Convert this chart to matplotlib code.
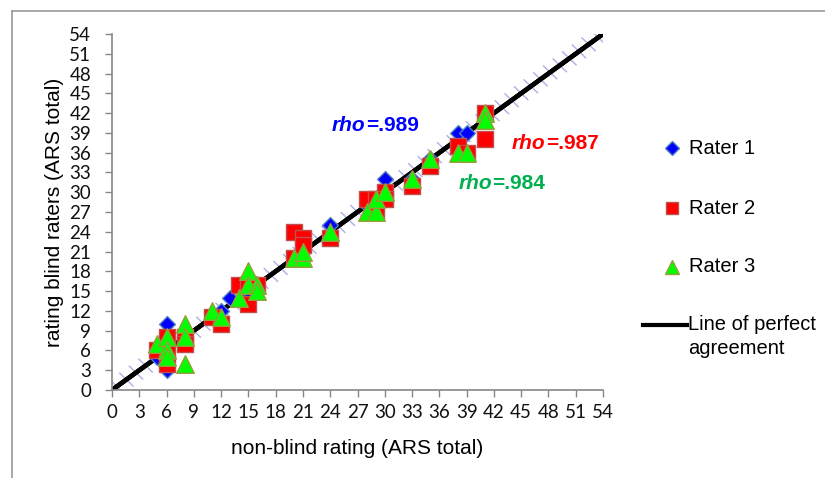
import matplotlib
matplotlib.use("Agg")
import matplotlib.pyplot as plt
import matplotlib.patheffects as pe
from matplotlib.lines import Line2D

# ---- data ----
r1_x = [5, 6, 6, 6, 8, 11, 12, 13, 15, 16, 20, 21, 24, 28, 29, 30, 33, 35, 38, 39, 41]
r1_y = [5, 10, 3, 6, 8, 11, 12, 14, 15, 16, 20, 21, 25, 28, 28, 32, 32, 35, 39, 39, 41]

r2_x = [5, 6, 6, 6, 8, 8, 11, 12, 14, 15, 15, 16, 20, 20, 21, 21, 24, 28, 29, 29, 30, 30,
        33, 35, 38, 39, 41, 41]
r2_y = [6, 8, 4, 6, 8, 7, 11, 10, 16, 16, 13, 16, 24, 20, 23, 22, 23, 29, 29, 27, 30, 29,
        31, 34, 37, 36, 42, 38]

r3_x = [5, 6, 6, 6, 8, 8, 8, 11, 12, 14, 15, 15, 16, 16, 20, 21, 21, 24, 28, 29, 29, 30,
        33, 35, 38, 39, 41, 41]
r3_y = [7, 8, 6, 5, 10, 8, 4, 12, 11, 14, 18, 16, 16, 15, 20, 20, 21, 24, 27, 27, 29, 30,
        32, 35, 36, 36, 42, 41]

line_x = [0, 54]
line_y = [0, 54]

ticks = list(range(0, 55, 3))

rho_labels = [".989", ".987", ".984"]
rho_colors = ["#0000ff", "#ff0000", "#00b050"]
rho_pos = [(27.9, 40.1), (47.7, 37.4), (41.8, 31.3)]

legend_labels = ["Rater 1", "Rater 2", "Rater 3", "Line of perfect", "agreement"]

# ---- figure ----
W, H = 825, 478
fig = plt.figure(figsize=(W / 100, H / 100), dpi=100)
ax = fig.add_axes([112 / W, 1 - 390 / H, 491 / W, 356 / H])

tick_font = ["Lato", "DejaVu Sans"]
label_font = ["Liberation Sans", "DejaVu Sans"]

# line of perfect agreement with lavender ticks
tick_col = "#b4b4e8"
ln, = ax.plot(line_x, line_y, color="black", lw=3.2, solid_capstyle="butt", zorder=2,
              path_effects=[
                  pe.withTickedStroke(spacing=8.4, angle=100, length=0.85, linewidth=1.1,
                                      foreground=tick_col),
                  pe.withTickedStroke(spacing=8.4, angle=-80, length=0.85, linewidth=1.1,
                                      foreground=tick_col),
                  pe.Normal()])

s1 = ax.scatter(r1_x, r1_y, marker="D", s=65, facecolor="#0000ff", edgecolor="#4f81bd",
                linewidth=1.0, zorder=3)
s2 = ax.scatter(r2_x, r2_y, marker="s", s=140, facecolor="#ff0000", edgecolor="#c0504d",
                linewidth=1.0, zorder=4)
s3 = ax.scatter(r3_x, r3_y, marker="^", s=160, facecolor="#00ff00", edgecolor="#9b9b3c",
                linewidth=1.0, zorder=5)

ax.set_xlim(0, 54)
ax.set_ylim(0, 54)
ax.set_xticks(ticks)
ax.set_yticks(ticks)
ax.set_xticklabels([str(t) for t in ticks], fontsize=13.5, family=tick_font)
ax.set_yticklabels([str(t) for t in ticks], fontsize=13.5, family=tick_font)
ax.tick_params(axis="both", direction="out", length=5, width=1, color="#868686",
               labelcolor="#111111")
ax.tick_params(axis="x", pad=5)
ax.tick_params(axis="y", pad=10)
for side in ["top", "right"]:
    ax.spines[side].set_visible(False)
for side in ["left", "bottom"]:
    ax.spines[side].set_color("#868686")
    ax.spines[side].set_linewidth(1.2)
ax.patch.set_alpha(0)

ax.set_xlabel("non-blind rating (ARS total)", fontsize=15, family=label_font, labelpad=13)
ax.set_ylabel("rating blind raters (ARS total)", fontsize=15, family=label_font, labelpad=4)

for lab, col, (tx, ty) in zip(rho_labels, rho_colors, rho_pos):
    ax.text(tx, ty, "rho", color=col, fontsize=15, fontweight="bold", fontstyle="italic",
            family=label_font, ha="right", va="center")
    ax.text(tx, ty, "=" + lab, color=col, fontsize=15, fontweight="bold",
            family=label_font, ha="left", va="center")

# ---- legend (drawn manually, figure pixel positions) ----
def fx(px):
    return px / W

def fy(py):
    return 1 - py / H

leg_rows = [148, 208, 267]
leg_styles = [
    dict(marker="D", ms=7, mfc="#0000ff", mec="#4f81bd"),
    dict(marker="s", ms=9, mfc="#ff0000", mec="#c0504d"),
    dict(marker="^", ms=10, mfc="#00ff00", mec="#9b9b3c"),
]
for row, st, lab in zip(leg_rows, leg_styles, legend_labels[:3]):
    fig.add_artist(Line2D([fx(672)], [fy(row)], ls="none", transform=fig.transFigure, **st))
    fig.text(fx(689), fy(row), lab, fontsize=14.5, family=label_font, ha="left", va="center")
fig.add_artist(Line2D([fx(643), fx(687)], [fy(325), fy(325)], color="black", lw=3,
                      transform=fig.transFigure))
fig.text(fx(688), fy(325), legend_labels[3], fontsize=14.5, family=label_font,
         ha="left", va="center")
fig.text(fx(688), fy(349), legend_labels[4], fontsize=14.5, family=label_font,
         ha="left", va="center")

# outer border (top and left visible)
fig.add_artist(Line2D([fx(12), 1.0], [fy(11), fy(11)],
                      transform=fig.transFigure, color="#9a9a9a", lw=1.2))
fig.add_artist(Line2D([fx(12), fx(12)], [0, fy(11)],
                      transform=fig.transFigure, color="#9a9a9a", lw=1.2))

fig.savefig("out.png", dpi=100)
